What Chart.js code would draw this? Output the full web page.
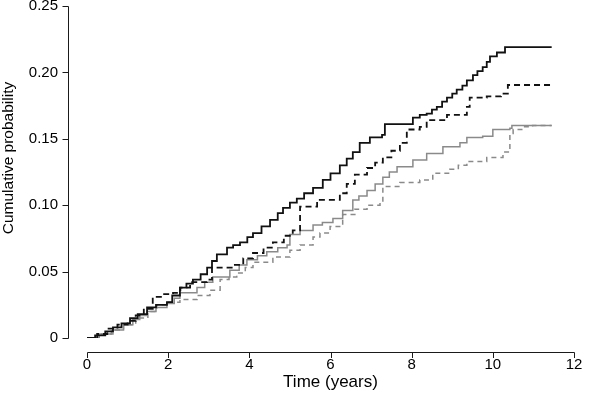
<!DOCTYPE html>
<html>
<head>
<meta charset="utf-8">
<script src="https://cdn.jsdelivr.net/npm/chart.js@4/dist/chart.umd.min.js"></script>
<style>
  html, body { margin: 0; padding: 0; background: #fff; }
  canvas { display: block; }
</style>
</head>
<body>
<canvas id="cumChart" width="600" height="402"></canvas>
<script>
// Data (time in years, cumulative probability)

const blackSolidTime = [0, 0.2, 0.45, 0.64, 0.85, 1.06, 1.25, 1.48, 1.7, 1.97, 2.1, 2.29, 2.45, 2.61, 2.8, 2.96, 3.08, 3.2, 3.45, 3.6, 3.77, 3.95, 4.09, 4.3, 4.51, 4.7, 4.83, 5.0, 5.17, 5.35, 5.57, 5.81, 6.0, 6.23, 6.4, 6.55, 6.72, 6.97, 7.27, 7.34, 8.03, 8.2, 8.37, 8.5, 8.62, 8.75, 8.87, 9.0, 9.11, 9.25, 9.36, 9.51, 9.62, 9.75, 9.85, 9.93, 10.1, 10.3, 11.45];
const blackSolidProb = [0, 0.002, 0.005, 0.008, 0.011, 0.015, 0.018, 0.023, 0.025, 0.027, 0.032, 0.038, 0.041, 0.044, 0.048, 0.053, 0.058, 0.063, 0.068, 0.070, 0.072, 0.076, 0.079, 0.084, 0.089, 0.094, 0.098, 0.102, 0.105, 0.109, 0.113, 0.119, 0.124, 0.130, 0.135, 0.140, 0.147, 0.151, 0.153, 0.161, 0.166, 0.168, 0.169, 0.172, 0.174, 0.178, 0.181, 0.184, 0.187, 0.190, 0.194, 0.198, 0.201, 0.204, 0.208, 0.212, 0.215, 0.219, 0.219];

const blackDashTime = [0, 0.25, 0.5, 0.75, 1.0, 1.2, 1.4, 1.62, 1.9, 2.12, 2.3, 2.54, 2.96, 3.08, 3.6, 3.85, 4.09, 4.35, 4.58, 4.85, 5.07, 5.25, 5.67, 6.23, 6.4, 6.6, 6.9, 7.1, 7.29, 7.5, 7.71, 7.88, 8.2, 8.37, 8.87, 9.36, 9.43, 9.85, 10.2, 10.37, 11.45];
const blackDashProb = [0, 0.003, 0.007, 0.010, 0.013, 0.017, 0.022, 0.031, 0.033, 0.034, 0.038, 0.042, 0.044, 0.053, 0.055, 0.060, 0.064, 0.068, 0.072, 0.077, 0.081, 0.099, 0.104, 0.109, 0.116, 0.123, 0.128, 0.132, 0.136, 0.141, 0.147, 0.157, 0.159, 0.164, 0.168, 0.174, 0.181, 0.182, 0.184, 0.1905, 0.1905];

const graySolidTime = [0, 0.3, 0.64, 0.9, 1.13, 1.3, 1.48, 1.7, 1.97, 2.15, 2.29, 2.71, 2.9, 3.1, 3.52, 3.75, 3.94, 4.2, 4.43, 4.7, 4.93, 5.0, 5.25, 5.57, 5.8, 6.06, 6.3, 6.55, 6.7, 6.9, 7.1, 7.29, 7.45, 7.64, 8.03, 8.37, 8.77, 9.19, 9.36, 9.75, 10.0, 10.42, 10.47, 11.45];
const graySolidProb = [0, 0.003, 0.006, 0.010, 0.014, 0.017, 0.020, 0.023, 0.026, 0.030, 0.034, 0.038, 0.042, 0.046, 0.051, 0.055, 0.059, 0.062, 0.065, 0.068, 0.070, 0.078, 0.081, 0.085, 0.087, 0.090, 0.096, 0.104, 0.107, 0.111, 0.116, 0.121, 0.125, 0.129, 0.134, 0.139, 0.144, 0.147, 0.151, 0.152, 0.157, 0.158, 0.160, 0.160];

const grayDashTime = [0, 0.3, 0.6, 0.9, 1.2, 1.5, 1.72, 2.0, 2.29, 2.71, 3.03, 3.28, 3.5, 3.69, 3.9, 4.09, 4.58, 5.0, 5.25, 5.57, 5.74, 5.99, 6.3, 6.6, 6.9, 7.22, 7.29, 7.71, 8.2, 8.52, 8.94, 9.15, 9.36, 9.85, 10.25, 10.42, 10.5, 10.74, 10.98, 11.45];
const grayDashProb = [0, 0.003, 0.006, 0.010, 0.015, 0.020, 0.025, 0.027, 0.029, 0.032, 0.036, 0.044, 0.046, 0.049, 0.053, 0.057, 0.061, 0.066, 0.070, 0.076, 0.079, 0.084, 0.093, 0.097, 0.100, 0.102, 0.114, 0.117, 0.119, 0.124, 0.127, 0.130, 0.133, 0.136, 0.140, 0.154, 0.157, 0.159, 0.160, 0.160];

const xTickValues = [0, 2, 4, 6, 8, 10, 12];
const yTickValues = [0, 0.05, 0.10, 0.15, 0.20, 0.25];
const yTickLabels = ["0", "0.05", "0.10", "0.15", "0.20", "0.25"];

const xTitle = "Time (years)",
    yTitle = "Cumulative probability";

const fontFamily = "'Liberation Sans', Arial, Helvetica, sans-serif";

// Helpers

function toPoints(times, probs) {
    return times.map((t, i) => ({ x: t, y: probs[i] }));
}

function makeSeries(times, probs, color, width, dash) {
    return {
        data: toPoints(times, probs),
        borderColor: color,
        borderWidth: width,
        borderDash: dash,
        stepped: "before",
        pointRadius: 0,
        fill: false,
    };
}

// R-style detached axes, drawn from the chart's own scales

const rAxes = {
    id: "rAxes",
    afterDraw(chart) {
        const ctx = chart.ctx,
            xs = chart.scales.x,
            ys = chart.scales.y,
            area = chart.chartArea;

        const axisX = area.left - 19,
            axisY = area.bottom + 14;

        ctx.save();
        ctx.strokeStyle = "#1a1a1a";
        ctx.lineWidth = 1;

        // y axis
        ctx.beginPath();
        ctx.moveTo(axisX + 0.5, Math.round(ys.getPixelForValue(yTickValues[0])) + 0.5);
        ctx.lineTo(axisX + 0.5, Math.round(ys.getPixelForValue(yTickValues[yTickValues.length - 1])) + 0.5);
        yTickValues.forEach(v => {
            const py = Math.round(ys.getPixelForValue(v)) + 0.5;
            ctx.moveTo(axisX + 0.5, py);
            ctx.lineTo(axisX - 5.5, py);
        });
        ctx.stroke();

        // x axis
        ctx.beginPath();
        ctx.moveTo(Math.round(xs.getPixelForValue(xTickValues[0])) + 0.5, axisY + 0.5);
        ctx.lineTo(Math.round(xs.getPixelForValue(xTickValues[xTickValues.length - 1])) + 0.5, axisY + 0.5);
        xTickValues.forEach(v => {
            const px = Math.round(xs.getPixelForValue(v)) + 0.5;
            ctx.moveTo(px, axisY + 0.5);
            ctx.lineTo(px, axisY + 6);
        });
        ctx.stroke();

        // titles
        ctx.fillStyle = "#000";
        ctx.textAlign = "center";
        ctx.textBaseline = "middle";
        ctx.font = "17px " + fontFamily;
        ctx.fillText(xTitle, (area.left + area.right) / 2, 382);

        ctx.font = "15.5px " + fontFamily;
        ctx.translate(9, 158);
        ctx.rotate(-Math.PI / 2);
        ctx.fillText(yTitle, 0, 0);
        ctx.restore();
    }
};

// Chart

const chartCtx = document.getElementById("cumChart");

new Chart(chartCtx, {
    type: "line",
    data: {
        datasets: [
            makeSeries(blackSolidTime, blackSolidProb, "#111", 1.8, []),
            makeSeries(blackDashTime, blackDashProb, "#111", 1.8, [6, 4]),
            makeSeries(graySolidTime, graySolidProb, "#8a8a8a", 1.5, []),
            makeSeries(grayDashTime, grayDashProb, "#8a8a8a", 1.5, [5, 4]),
        ],
    },
    options: {
        responsive: false,
        animation: false,
        events: [],
        layout: {
            padding: { left: 0, right: 26, top: 6, bottom: 0 },
        },
        plugins: {
            legend: { display: false },
            tooltip: { enabled: false },
        },
        scales: {
            x: {
                type: "linear",
                min: 0,
                max: 12,
                afterBuildTicks: scale => {
                    scale.ticks = xTickValues.map(v => ({ value: v }));
                },
                afterFit: scale => {
                    scale.height = 64;
                    scale.paddingLeft = 0;
                    scale.paddingRight = 0;
                },
                ticks: {
                    color: "#000",
                    font: { family: fontFamily, size: 15 },
                    padding: 18,
                    maxRotation: 0,
                    callback: v => String(v),
                },
                grid: { display: false, drawTicks: false },
                border: { display: false },
            },
            y: {
                type: "linear",
                min: 0,
                max: 0.25,
                afterBuildTicks: scale => {
                    scale.ticks = yTickValues.map(v => ({ value: v }));
                },
                afterFit: scale => {
                    scale.width = 87;
                    scale.paddingTop = 0;
                    scale.paddingBottom = 0;
                },
                ticks: {
                    color: "#000",
                    font: { family: fontFamily, size: 15 },
                    padding: 29,
                    callback: (v, i) => yTickLabels[i],
                },
                grid: { display: false, drawTicks: false },
                border: { display: false },
            },
        },
    },
    plugins: [rAxes],
});
</script>
</body>
</html>
